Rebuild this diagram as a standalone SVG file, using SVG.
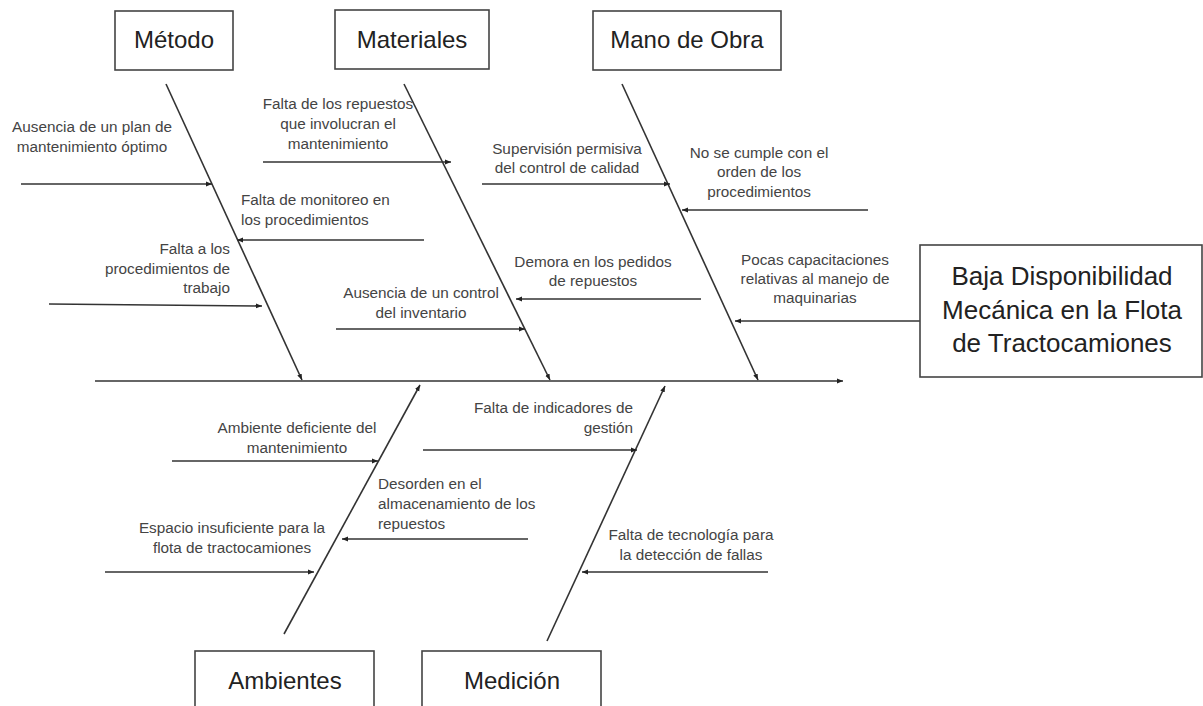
<svg xmlns="http://www.w3.org/2000/svg" width="1203" height="706" viewBox="0 0 1203 706">
<style>
.box{fill:#fff;stroke:#444;stroke-width:1.6}
.cat{font-family:"Liberation Sans",Arial,sans-serif;font-size:24px;fill:#222;text-anchor:middle}
.eff{font-family:"Liberation Sans",Arial,sans-serif;font-size:26px;fill:#222;text-anchor:middle}
.lbl{font-family:"Liberation Sans",Arial,sans-serif;font-size:15.3px;fill:#444}
.c{text-anchor:middle}.r{text-anchor:end}.l{text-anchor:start}
.ln{stroke:#333;stroke-width:1.6;fill:none;marker-end:url(#ah)}
</style>
<defs>
<marker id="ah" viewBox="0 0 10 10" refX="10" refY="5" markerWidth="6" markerHeight="6" orient="auto" markerUnits="userSpaceOnUse">
<path d="M0,1 L10,5 L0,9 z" fill="#222"/>
</marker>
</defs>
<rect width="1203" height="706" fill="#fff"/>

<g id="connectors">
<line class="ln" x1="95" y1="381" x2="843" y2="381"/>
<line class="ln" x1="166" y1="84" x2="302" y2="380"/>
<line class="ln" x1="404" y1="84" x2="550" y2="380"/>
<line class="ln" x1="622" y1="84" x2="758" y2="380"/>
<line class="ln" x1="284" y1="634" x2="420" y2="385"/>
<line class="ln" x1="547" y1="641" x2="665" y2="386"/>
<line class="ln" x1="21" y1="184" x2="212" y2="184"/>
<line class="ln" x1="424" y1="240" x2="237" y2="240"/>
<line class="ln" x1="49" y1="304" x2="262" y2="306"/>
<line class="ln" x1="263" y1="162" x2="451" y2="162"/>
<line class="ln" x1="336" y1="329" x2="525" y2="329"/>
<line class="ln" x1="701" y1="299" x2="516" y2="299"/>
<line class="ln" x1="482" y1="184" x2="670" y2="184"/>
<line class="ln" x1="868" y1="210" x2="682" y2="210"/>
<line class="ln" x1="920" y1="321" x2="735" y2="321"/>
<line class="ln" x1="172" y1="461" x2="378" y2="461"/>
<line class="ln" x1="105" y1="572" x2="314" y2="572"/>
<line class="ln" x1="528" y1="539" x2="342" y2="539"/>
<line class="ln" x1="423" y1="450" x2="637" y2="450"/>
<line class="ln" x1="768" y1="572" x2="582" y2="572"/>
</g>

<g id="metodo"><rect class="box" x="115" y="11" width="118" height="59"/><text class="cat" x="174" y="48">Método</text></g>
<g id="materiales"><rect class="box" x="335" y="10" width="154" height="59"/><text class="cat" x="412" y="48">Materiales</text></g>
<g id="mano-de-obra"><rect class="box" x="593" y="11" width="188" height="59"/><text class="cat" x="687" y="48">Mano de Obra</text></g>
<g id="efecto"><rect class="box" x="920" y="245" width="282" height="132"/>
<text class="eff" x="1062" y="285">Baja Disponibilidad</text>
<text class="eff" x="1062" y="319">Mecánica en la Flota</text>
<text class="eff" x="1062" y="352">de Tractocamiones</text></g>
<g id="ambientes"><rect class="box" x="195" y="651" width="179" height="70"/><text class="cat" x="285" y="689">Ambientes</text></g>
<g id="medicion"><rect class="box" x="422" y="651" width="179" height="70"/><text class="cat" x="512" y="689">Medición</text></g>

<g id="causas">
<text class="lbl c" x="92" y="132">Ausencia de un plan de</text>
<text class="lbl c" x="92" y="152">mantenimiento óptimo</text>
<text class="lbl l" x="241" y="205">Falta de monitoreo en</text>
<text class="lbl l" x="241" y="225">los procedimientos</text>
<text class="lbl r" x="230" y="254">Falta a los</text>
<text class="lbl r" x="230" y="274">procedimientos de</text>
<text class="lbl r" x="230" y="293">trabajo</text>
<text class="lbl c" x="338" y="109">Falta de los repuestos</text>
<text class="lbl c" x="338" y="129">que involucran el</text>
<text class="lbl c" x="338" y="149">mantenimiento</text>
<text class="lbl c" x="421" y="298">Ausencia de un control</text>
<text class="lbl c" x="421" y="318">del inventario</text>
<text class="lbl c" x="593" y="267">Demora en los pedidos</text>
<text class="lbl c" x="593" y="286">de repuestos</text>
<text class="lbl c" x="567" y="154">Supervisión permisiva</text>
<text class="lbl c" x="567" y="173">del control de calidad</text>
<text class="lbl c" x="759" y="158">No se cumple con el</text>
<text class="lbl c" x="759" y="177">orden de los</text>
<text class="lbl c" x="759" y="197">procedimientos</text>
<text class="lbl c" x="815" y="265">Pocas capacitaciones</text>
<text class="lbl c" x="815" y="284">relativas al manejo de</text>
<text class="lbl c" x="815" y="303">maquinarias</text>
<text class="lbl c" x="297" y="433">Ambiente deficiente del</text>
<text class="lbl c" x="297" y="453">mantenimiento</text>
<text class="lbl c" x="232" y="533">Espacio insuficiente para la</text>
<text class="lbl c" x="232" y="553">flota de tractocamiones</text>
<text class="lbl l" x="378" y="489">Desorden en el</text>
<text class="lbl l" x="378" y="509">almacenamiento de los</text>
<text class="lbl l" x="378" y="529">repuestos</text>
<text class="lbl r" x="633" y="413">Falta de indicadores de</text>
<text class="lbl r" x="633" y="433">gestión</text>
<text class="lbl c" x="691" y="540">Falta de tecnología para</text>
<text class="lbl c" x="691" y="560">la detección de fallas</text>
</g>
</svg>
